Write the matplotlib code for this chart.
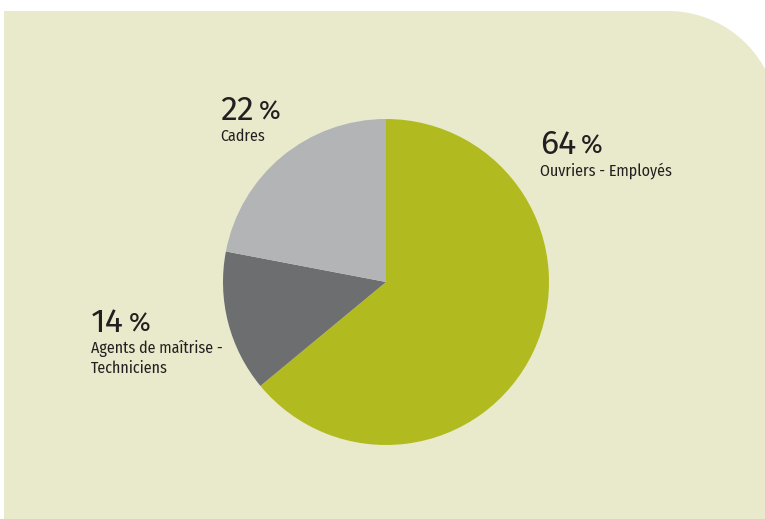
import numpy as np
import matplotlib
matplotlib.use('Agg')
import matplotlib.pyplot as plt
from matplotlib.path import Path
from matplotlib.patches import PathPatch

# shares of staff by category
categories = ['Ouvriers - Employés', 'Agents de maîtrise -\nTechniciens', 'Cadres']
shares     = [64, 14, 22]
colors     = ['#b1bb1f', '#6d6e70', '#b3b4b6']

plt.rcParams['font.family'] = ['Fira Sans Condensed', 'DejaVu Sans']
num_font = ['Fira Sans', 'DejaVu Sans']
text_col = '#231f20'

W, H = 765, 519
fig = plt.figure(figsize=(W / 100, H / 100), dpi=100)
ax = fig.add_axes([0, 0, 1, 1])

# beige panel with a rounded top-right corner
top, left = H - 11, 4
cx, cy, r = 668, top - 110, 110
t = np.linspace(np.pi / 2, np.arccos((W - cx) / r), 40)
arc = np.column_stack([cx + r * np.cos(t), cy + r * np.sin(t)])
verts = [(left, 0), (W, 0)] + [tuple(p) for p in arc[::-1]] + [(left, top), (left, 0)]
codes = [Path.MOVETO] + [Path.LINETO] * (len(verts) - 2) + [Path.CLOSEPOLY]
ax.add_patch(PathPatch(Path(verts, codes), facecolor='#e9eacb', edgecolor='none'))

ax.pie(shares, colors=colors, startangle=90, counterclock=False,
       center=(386, H - 282), radius=163, frame=True,
       wedgeprops=dict(linewidth=0))
ax.set_xlim(0, W)
ax.set_ylim(0, H)
ax.axis('off')

# label positions (left x, baseline of number) in pixels from top
label_pos = [(540, 154), (91, 332), (220, 120)]

fig.canvas.draw()
rend = fig.canvas.get_renderer()
for (x, y), share, cat in zip(label_pos, shares, categories):
    num = ax.text(x, H - y, str(share), fontsize=24.5, family=num_font,
                  color=text_col, ha='left', va='baseline')
    bb = num.get_window_extent(rend)
    ax.text(bb.x1 + 5, H - y, '%', fontsize=19, family=num_font,
            color=text_col, ha='left', va='baseline')
    for i, line in enumerate(cat.split('\n')):
        ax.text(x, H - y - 21 - 20 * i, line, fontsize=11.5, color=text_col,
                ha='left', va='baseline')

fig.savefig('out.png', dpi=100, facecolor='white')
